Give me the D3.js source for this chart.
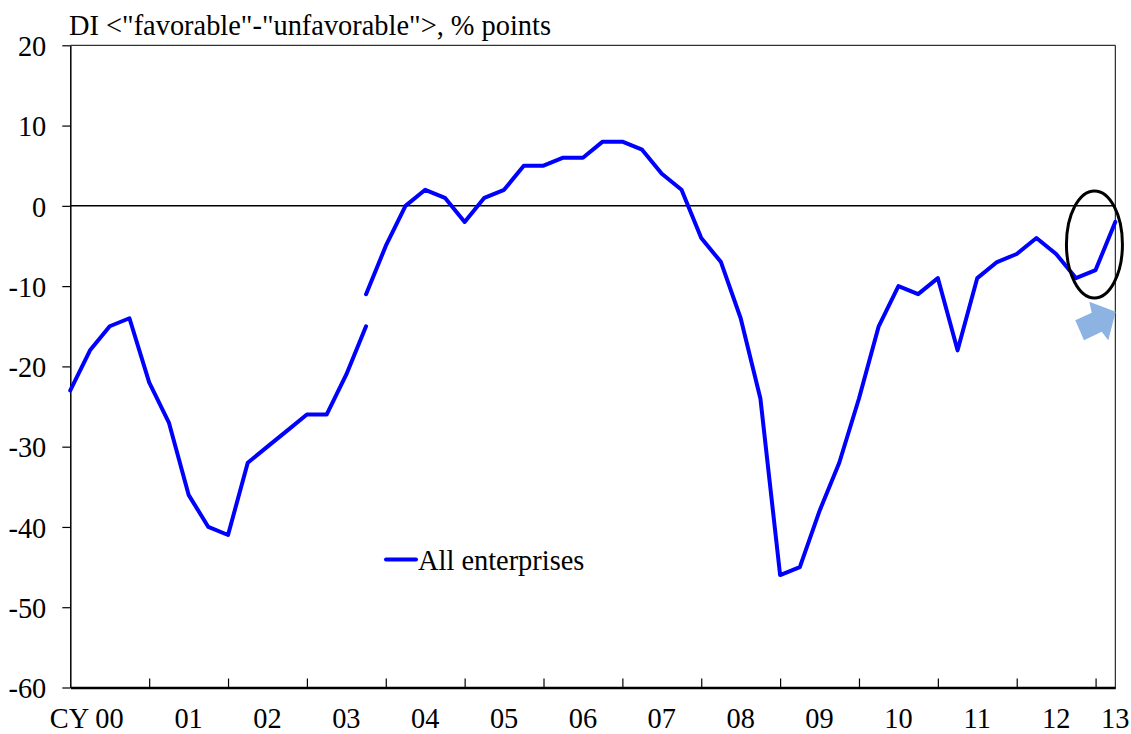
<!DOCTYPE html>
<html>
<head>
<meta charset="utf-8">
<script src="https://cdn.jsdelivr.net/npm/d3@7"></script>
<style>
  html, body { margin: 0; padding: 0; background: #fff; }
  svg { display: block; }
  text { font-family: "Liberation Serif", "Times New Roman", serif; fill: #000; }
</style>
</head>
<body>
<svg id="chart" width="1131" height="734"></svg>
<script>
// ---- data ----
const years = ["00","01","02","03","04","05","06","07","08","09","10","11","12","13"];
const quarters = [];
years.forEach((yr, yi) => { for (let q = 1; q <= 4; q++) { if (yi < 13 || q <= 2) quarters.push(yr + "Q" + q); } });
// Old basis (through Dec 2003 survey)
const oldSeries = [-23,-18,-15,-14,-22,-27,-36,-40,-41,-32,-30,-28,-26,-26,-21,-15];
// New basis (from Dec 2003 survey, revised)
const newSeries = [-11,-5,0,2,1,-2,1,2,5,5,6,6,8,8,7,4,2,-4,-7,-14,-24,-46,-45,-38,-32,-24,-15,-10,-11,-9,-18,-9,-7,-6,-4,-6,-9,-8,-2];
const newStart = 15;
const yTicks = [20,10,0,-10,-20,-30,-40,-50,-60];
const xLabels = ["CY 00","01","02","03","04","05","06","07","08","09","10","11","12","13"];
const titleText = 'DI <"favorable"-"unfavorable">, % points';
const legendLabel = "All enterprises";

// ---- layout ----
const FS = 28.4;
const svg = d3.select("#chart");
const mLeft = 70.3, mRight = 1115.3, mTop = 45.3, mBottom = 687.5;

const x = d3.scaleLinear().domain([0, quarters.length - 1]).range([mLeft, mRight]);
const y = d3.scaleLinear().domain([-60, 20]).range([mBottom, mTop]);

const oldData = quarters.map((q, i) => i < oldSeries.length ? oldSeries[i] : null);
const newData = quarters.map((q, i) => (i >= newStart && i - newStart < newSeries.length) ? newSeries[i - newStart] : null);

// title
svg.append("text").attr("x", 69).attr("y", 35).attr("font-size", FS).text(titleText);

// top and right frame
svg.append("line").attr("x1", mLeft).attr("x2", mRight).attr("y1", mTop).attr("y2", mTop)
  .attr("stroke", "#000").attr("stroke-width", 1);
svg.append("line").attr("x1", mRight).attr("x2", mRight).attr("y1", mTop).attr("y2", mBottom)
  .attr("stroke", "#000").attr("stroke-width", 1);

// zero line
svg.append("line").attr("x1", mLeft).attr("x2", mRight).attr("y1", y(0)).attr("y2", y(0))
  .attr("stroke", "#000").attr("stroke-width", 1.5);

// y axis
const yAxis = svg.append("g").attr("transform", `translate(${mLeft},0)`)
  .call(d3.axisLeft(y).tickValues(yTicks).tickSize(8).tickSizeOuter(0).tickPadding(16).tickFormat(d => String(d)));
yAxis.select(".domain").attr("stroke", "#000").attr("stroke-width", 1.5);
yAxis.selectAll(".tick line").attr("stroke", "#000").attr("stroke-width", 1.2);
yAxis.selectAll(".tick text").attr("font-size", FS).attr("fill", "#000").attr("dy", "0.36em");

// x axis (ticks every 4 quarters)
const xTickIdx = d3.range(4, quarters.length, 4);
const xAxis = svg.append("g").attr("transform", `translate(0,${mBottom})`)
  .call(d3.axisBottom(x).tickValues(xTickIdx).tickSize(-9).tickSizeOuter(0).tickFormat(""));
xAxis.select(".domain").attr("stroke", "#000").attr("stroke-width", 2.5);
xAxis.selectAll(".tick line").attr("stroke", "#000").attr("stroke-width", 1.2);

// x labels: centered on 3rd quarter of each year; first aligned so "00" sits there, last at final point
xLabels.forEach((lab, k) => {
  const idx = Math.min(4 * k + 2, quarters.length - 1);
  const t = svg.append("text").attr("y", 728).attr("font-size", FS).text(lab);
  if (k === 0) {
    t.attr("x", x(idx) + 14).attr("text-anchor", "end");
  } else {
    t.attr("x", x(idx)).attr("text-anchor", "middle");
  }
});

// series
const line = d3.line().defined(d => d.v !== null).x(d => x(d.i)).y(d => y(d.v));
[oldData, newData].forEach(arr => {
  svg.append("path")
    .datum(arr.map((v, i) => ({ i, v })))
    .attr("d", line)
    .attr("fill", "none")
    .attr("stroke", "#0000FF")
    .attr("stroke-width", 4)
    .attr("stroke-linejoin", "round")
    .attr("stroke-linecap", "round");
});

// highlight ellipse around the latest two points
const lastI = quarters.length - 1;
svg.append("ellipse")
  .attr("cx", (x(lastI - 1) + x(lastI)) / 2 - 11)
  .attr("cy", y(-4.8))
  .attr("rx", 28).attr("ry", 53.5)
  .attr("fill", "none").attr("stroke", "#000").attr("stroke-width", 3);

// block arrow
const ax = x(lastI), ay = y(-13.2);
const arrowPts = [[-40, 8.5], [-23.6, 1], [-26, -10], [0.4, 0], [-7, 28.5], [-13.6, 20], [-31.3, 28.5]];
svg.append("polygon")
  .attr("points", arrowPts.map(p => [ax + p[0], ay + p[1]].join(",")).join(" "))
  .attr("fill", "#8DB3E2");

// legend
svg.append("line").attr("x1", 386).attr("x2", 416).attr("y1", 559.5).attr("y2", 559.5)
  .attr("stroke", "#0000FF").attr("stroke-width", 4).attr("stroke-linecap", "round");
svg.append("text").attr("x", 418).attr("y", 569.5).attr("font-size", FS).text(legendLabel);
</script>
</body>
</html>
